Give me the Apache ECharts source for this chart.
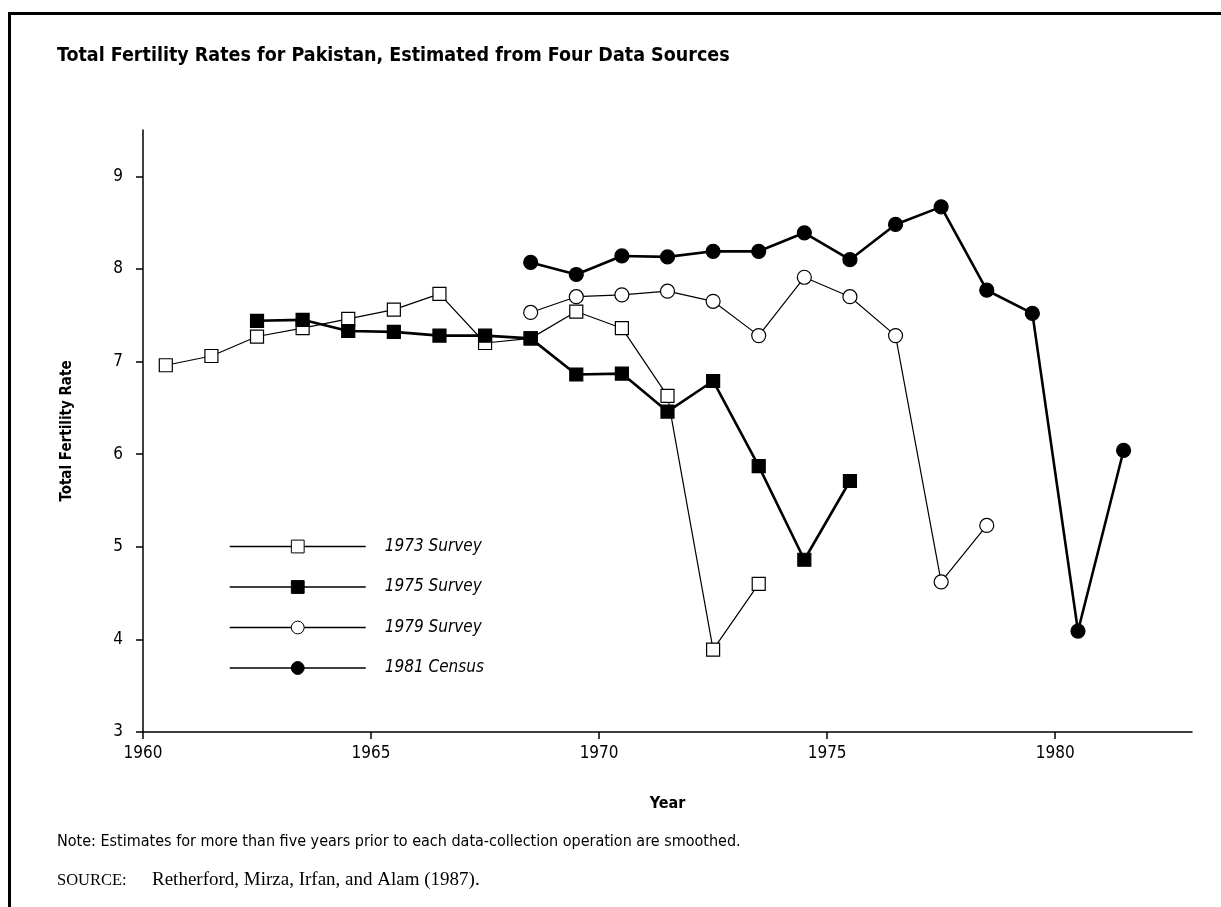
<!DOCTYPE html>
<html>
<head>
<meta charset="utf-8">
<script src="https://cdn.jsdelivr.net/npm/echarts@6/dist/echarts.min.js"></script>
<style>
  html, body { margin: 0; padding: 0; background: #fff; }
  #frame { position: absolute; left: 8px; top: 12px; width: 1400px; height: 1100px;
           border-left: 3px solid #000; border-top: 3px solid #000; pointer-events: none; }
  #chart { position: absolute; left: 0; top: 0; width: 1221px; height: 907px; }
</style>
</head>
<body>
<div id="chart"></div>
<div id="frame"></div>
<script>
// Estimates by reference year (mid-year points), one list per data source
const yearsS1973 = [1960.5, 1961.5, 1962.5, 1963.5, 1964.5, 1965.5, 1966.5, 1967.5, 1968.5, 1969.5, 1970.5, 1971.5, 1972.5, 1973.5];
const tfrS1973   = [6.96, 7.06, 7.27, 7.36, 7.46, 7.56, 7.73, 7.20, 7.25, 7.54, 7.36, 6.63, 3.89, 4.60];

const yearsS1975 = [1962.5, 1963.5, 1964.5, 1965.5, 1966.5, 1967.5, 1968.5, 1969.5, 1970.5, 1971.5, 1972.5, 1973.5, 1974.5, 1975.5];
const tfrS1975   = [7.44, 7.45, 7.33, 7.32, 7.28, 7.28, 7.25, 6.86, 6.87, 6.46, 6.79, 5.87, 4.86, 5.71];

const yearsS1979 = [1968.5, 1969.5, 1970.5, 1971.5, 1972.5, 1973.5, 1974.5, 1975.5, 1976.5, 1977.5, 1978.5];
const tfrS1979   = [7.53, 7.70, 7.72, 7.76, 7.65, 7.28, 7.91, 7.70, 7.28, 4.62, 5.23];

const yearsC1981 = [1968.5, 1969.5, 1970.5, 1971.5, 1972.5, 1973.5, 1974.5, 1975.5, 1976.5, 1977.5, 1978.5, 1979.5, 1980.5, 1981.5];
const tfrC1981   = [8.07, 7.94, 8.14, 8.13, 8.19, 8.19, 8.39, 8.10, 8.48, 8.67, 7.77, 7.52, 4.09, 6.04];

const seriesNames = ['1973 Survey', '1975 Survey', '1979 Survey', '1981 Census'];
const xTickYears  = [1960, 1965, 1970, 1975, 1980];
const yTickValues = [3, 4, 5, 6, 7, 8, 9];

const titleText  = 'Total Fertility Rates for Pakistan, Estimated from Four Data Sources';
const noteText   = 'Note: Estimates for more than five years prior to each data-collection operation are smoothed.';
const sourceLead = 'SOURCE:';
const sourceText = 'Retherford, Mirza, Irfan, and Alam (1987).';

const SANS = '"Liberation Sans Narrow", "DejaVu Sans Condensed", sans-serif';
const SERIF = '"Liberation Serif", "DejaVu Serif", serif';

function pairs(xs, ys) { return xs.map((x, i) => [x, ys[i]]); }

function makeSeries(name, xs, ys, symbol, filled, lineWidth, size) {
  return {
    name: name,
    type: 'line',
    data: pairs(xs, ys),
    symbol: symbol,
    symbolSize: size,
    showAllSymbol: true,
    lineStyle: { color: '#000', width: lineWidth },
    itemStyle: { color: filled ? '#000' : '#fff', borderColor: '#000', borderWidth: 1.2 },
    emphasis: { disabled: true },
    animation: false
  };
}

const chart = echarts.init(document.getElementById('chart'), null, { renderer: 'canvas' });

chart.setOption({
  backgroundColor: '#fff',
  animation: false,
  title: [
    { text: titleText, left: 57, top: 46, padding: 0,
      textStyle: { fontFamily: SANS, fontWeight: 'bold', fontSize: 19.5, color: '#000' } },
    { text: noteText, left: 57, top: 834, padding: 0,
      textStyle: { fontFamily: SANS, fontWeight: 'normal', fontSize: 16, color: '#000' } },
    { text: '{sc|' + sourceLead + '}{src|' + sourceText + '}', left: 57, top: 871, padding: 0,
      textStyle: { fontWeight: 'normal', rich: {
        sc:  { fontFamily: SERIF, fontWeight: 'normal', fontSize: 16.5, color: '#000', width: 95 },
        src: { fontFamily: SERIF, fontWeight: 'normal', fontSize: 19, color: '#000' }
      } } }
  ],
  grid: { left: 143, right: 29, top: 130, bottom: 175, containLabel: false },
  legend: {
    orient: 'vertical',
    left: 229,
    top: 538,
    padding: 0,
    itemWidth: 136,
    itemHeight: 16,
    itemGap: 23.5,
    selectedMode: false,
    data: seriesNames,
    lineStyle: { color: '#000', width: 1.5 },
    itemStyle: { borderWidth: 1 },
    textStyle: { fontFamily: SANS, fontStyle: 'italic', fontSize: 17, color: '#000', padding: [0, 0, 0, 14] }
  },
  xAxis: {
    type: 'value',
    min: 1960,
    max: 1983,
    interval: 5,
    name: 'Year',
    nameLocation: 'middle',
    nameGap: 64,
    nameTextStyle: { fontFamily: SANS, fontWeight: 'bold', fontSize: 16, color: '#000' },
    axisLine: { lineStyle: { color: '#000', width: 1.5 } },
    axisTick: { length: 7, lineStyle: { color: '#000', width: 1.5 }, customValues: xTickYears },
    axisLabel: { fontFamily: SANS, fontSize: 17, color: '#000', margin: 13,
                 customValues: xTickYears, formatter: v => String(v) },
    splitLine: { show: false }
  },
  yAxis: {
    type: 'value',
    min: 3,
    max: 9.5,
    interval: 1,
    name: 'Total Fertility Rate',
    nameLocation: 'middle',
    nameGap: 68,
    nameTextStyle: { fontFamily: SANS, fontWeight: 'bold', fontSize: 15, color: '#000' },
    axisLine: { lineStyle: { color: '#000', width: 1.5 } },
    axisTick: { length: 7, lineStyle: { color: '#000', width: 1.5 }, customValues: yTickValues },
    axisLabel: { fontFamily: SANS, fontSize: 17, color: '#000', margin: 20, customValues: yTickValues },
    splitLine: { show: false }
  },
  series: [
    makeSeries(seriesNames[0], yearsS1973, tfrS1973, 'rect', false, 1.2, 13),
    makeSeries(seriesNames[1], yearsS1975, tfrS1975, 'rect', true, 2.6, 13),
    makeSeries(seriesNames[2], yearsS1979, tfrS1979, 'circle', false, 1.2, 14),
    makeSeries(seriesNames[3], yearsC1981, tfrC1981, 'circle', true, 2.6, 14)
  ]
});
</script>
</body>
</html>
